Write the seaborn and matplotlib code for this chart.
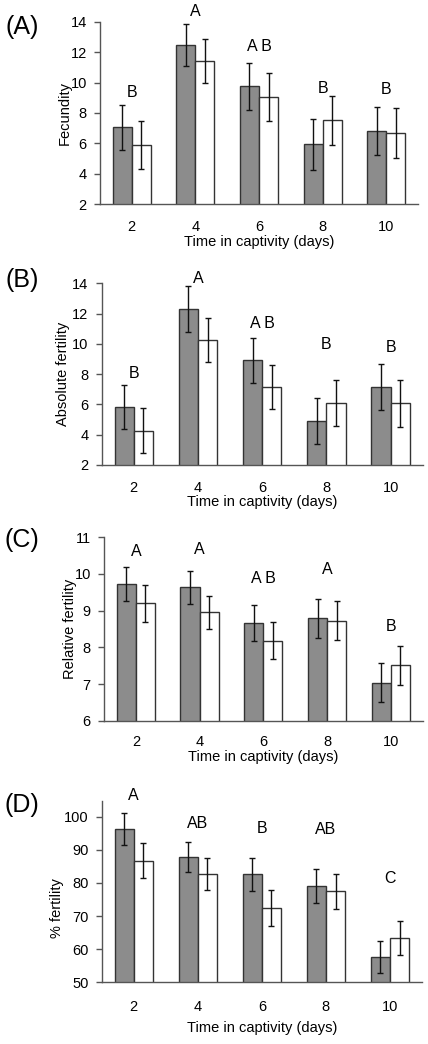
import numpy as np
import pandas as pd
import seaborn as sns
import matplotlib
matplotlib.use('Agg')
from matplotlib import pyplot as plt

days = ['2', '4', '6', '8', '10']
groups = ['Group 1', 'Group 2']

# (A) fecundity
fec_1 = [7.07, 12.49, 9.76, 5.94, 6.81]
fec_1_err = [1.48, 1.38, 1.55, 1.66, 1.59]
fec_2 = [5.90, 11.41, 9.07, 7.52, 6.66]
fec_2_err = [1.57, 1.43, 1.58, 1.61, 1.65]
fec_letters = ['B', 'A', 'A B', 'B', 'B']

# (B) absolute fertility
abs_1 = [5.83, 12.31, 8.91, 4.92, 7.15]
abs_1_err = [1.45, 1.50, 1.47, 1.52, 1.54]
abs_2 = [4.26, 10.23, 7.15, 6.09, 6.07]
abs_2_err = [1.48, 1.45, 1.45, 1.54, 1.54]
abs_letters = ['B', 'A', 'A B', 'B', 'B']

# (C) relative fertility
rel_1 = [9.73, 9.64, 8.66, 8.79, 7.04]
rel_1_err = [0.47, 0.45, 0.49, 0.54, 0.52]
rel_2 = [9.20, 8.95, 8.18, 8.73, 7.51]
rel_2_err = [0.51, 0.46, 0.51, 0.53, 0.54]
rel_letters = ['A', 'A', 'A B', 'A', 'B']

# (D) % fertility
pct_1 = [96.3, 87.7, 82.6, 79.1, 57.7]
pct_1_err = [4.9, 4.5, 5.0, 5.2, 4.8]
pct_2 = [86.7, 82.6, 72.5, 77.5, 63.4]
pct_2_err = [5.2, 4.8, 5.5, 5.3, 5.2]
pct_letters = ['A', 'AB', 'B', 'AB', 'C']

sns.set_style('white')
plt.rcParams['font.family'] = ['Liberation Sans', 'DejaVu Sans']
plt.rcParams['text.color'] = 'black'
plt.rcParams['axes.labelcolor'] = 'black'

fig = plt.figure(figsize=(4.28, 10.44), dpi=100)
H = 1044.0

# panel settings: label, ylabel, values, axes box in px (left, right, top, bottom), ylim, yticks,
# letter heights, ylabel x, ylabel y, xlabel y, tick pad, panel label y
panels = [
    ('(A)', 'Fecundity', fec_1, fec_1_err, fec_2, fec_2_err, fec_letters,
     (100, 418, 21.7, 204.3), (2, 14), np.arange(2, 15, 2),
     [9.36, 14.65, 12.36, 9.6, 9.55], -0.112, 0.5, -0.205, 11.5, 27),
    ('(B)', 'Absolute fertility', abs_1, abs_1_err, abs_2, abs_2_err, abs_letters,
     (101.7, 422.7, 283.3, 465), (2, 14), np.arange(2, 15, 2),
     [8.06, 14.33, 11.36, 9.93, 9.78], -0.12, 0.5, -0.205, 11.5, 280),
    ('(C)', 'Relative fertility', rel_1, rel_1_err, rel_2, rel_2_err, rel_letters,
     (104, 422.7, 537.3, 720.7), (6, 11), np.arange(6, 12, 1),
     [10.61, 10.67, 9.88, 10.11, 8.58], -0.107, 0.5, -0.197, 10.5, 540),
    ('(D)', '% fertility', pct_1, pct_1_err, pct_2, pct_2_err, pct_letters,
     (101.7, 422, 800.7, 982.3), (50, 104.8), np.arange(50, 101, 10),
     [106.5, 98.0, 96.5, 96.2, 81.4], -0.14, 0.41, -0.253, 12.5, 805),
]

for (plab, ylab, v1, e1, v2, e2, letters, box, ylim, yticks,
     letter_y, ylx, yly, xly, xpad, plab_y) in panels:
    left, right, top, bottom = box
    ax = fig.add_axes([left / 428, 1 - bottom / H, (right - left) / 428, (bottom - top) / H])
    df = pd.DataFrame({
        'day': days * 2,
        'group': [groups[0]] * 5 + [groups[1]] * 5,
        'value': v1 + v2,
    })
    sns.barplot(data=df, x='day', y='value', hue='group', order=days, hue_order=groups,
                palette=['#8c8c8c', '#ffffff'], saturation=1, width=0.6,
                edgecolor='#333333', linewidth=1, errorbar=None, legend=False, ax=ax)
    for cont, err in zip(ax.containers, [e1, e2]):
        xs = [b.get_x() + b.get_width() / 2 for b in cont]
        ys = [b.get_height() for b in cont]
        ax.errorbar(xs, ys, yerr=err, fmt='none', ecolor='#111111',
                    elinewidth=1, capsize=2, capthick=1)
    for i, (lt, ly) in enumerate(zip(letters, letter_y)):
        ax.text(i, ly, lt, ha='center', va='center', fontsize=11.5, color='black',
                clip_on=False)

    ax.set_xlim(-0.5, 4.5)
    ax.set_ylim(*ylim)
    ax.set_yticks(yticks)
    ax.set_xticks(range(5))
    ax.set_xticklabels(days)
    ax.set_xticks(np.arange(-0.5, 5, 1), minor=True)
    ax.tick_params(axis='x', which='major', length=0, pad=xpad, labelsize=10.5,
                   labelcolor='black')
    ax.tick_params(axis='x', which='minor', length=4, width=1, color='#555555', direction='out')
    ax.tick_params(axis='y', length=4, width=1, color='#555555', direction='out', pad=5.5,
                   labelsize=10.5, labelcolor='black', left=True)
    for s in ['top', 'right']:
        ax.spines[s].set_visible(False)
    for s in ['left', 'bottom']:
        ax.spines[s].set_color('#555555')
        ax.spines[s].set_linewidth(1)

    ax.set_ylabel(ylab, fontsize=10.5)
    ax.yaxis.label.set_va('center')
    ax.yaxis.set_label_coords(ylx, yly)
    ax.set_xlabel('Time in captivity (days)', fontsize=10.5)
    ax.xaxis.label.set_va('center')
    ax.xaxis.set_label_coords(0.5, xly)

    fig.text(22 / 428, 1 - plab_y / H, plab, ha='center', va='center', fontsize=18,
             color='black')

fig.savefig('out.png', dpi=100)
